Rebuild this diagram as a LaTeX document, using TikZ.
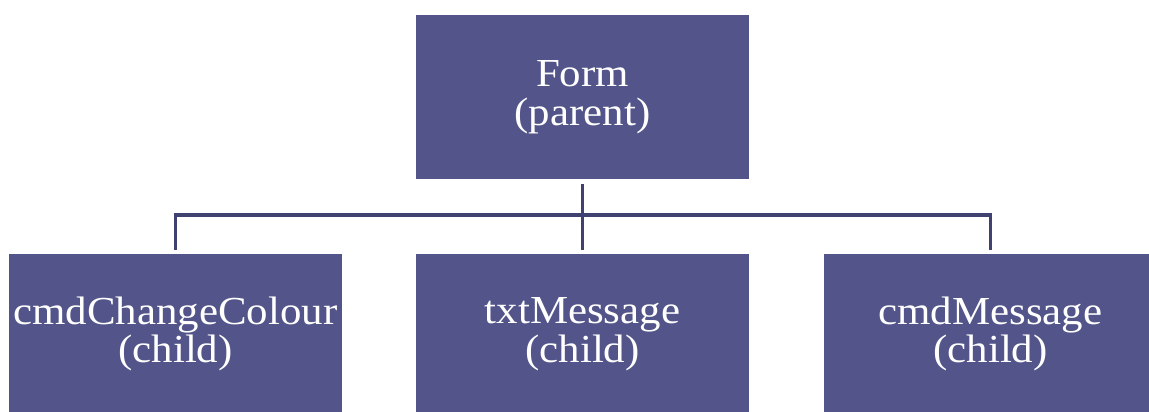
\documentclass[tikz,border=0pt]{standalone}
\usepackage{fontspec}
\setmainfont{Liberation Serif}[FakeStretch=1.08]
\definecolor{boxblue}{HTML}{53558A}
\definecolor{linkblue}{HTML}{3F4170}
\tikzset{
    box/.style={fill=boxblue,text=white,align=center,inner sep=0pt,minimum width=6.66cm,
        font=\fontsize{22.6}{22}\selectfont},
    link/.style={draw=linkblue,line width=2.2pt}
}

\begin{document}
\begin{tikzpicture}[x=0.02cm,y=-0.02cm]
            \useasboundingbox (0,0) rectangle (1149,412);
            \clip (0,0) rectangle (1149,412);
            \node[box,minimum height=3.28cm] (form) at (582.5,97) {Form\\(parent)};
            \node[box,minimum height=3.2cm] (cc) at (175.5,334) {cmdChangeColour\\(child)};
            \node[box,minimum height=3.2cm] (tm) at (582.5,334) {txtMessage\\(child)};
            \node[box,minimum height=3.2cm] (cm) at (990.5,334) {cmdMessage\\(child)};
            \coordinate (bus) at (582.5,215);
            \draw[link] ([yshift=2.3pt]cc.north) |- (bus) -| ([yshift=2.3pt]cm.north);
            \draw[link] ([yshift=-2.8pt]form.south) -- ([yshift=2.3pt]tm.north);
        \end{tikzpicture}
\end{document}
